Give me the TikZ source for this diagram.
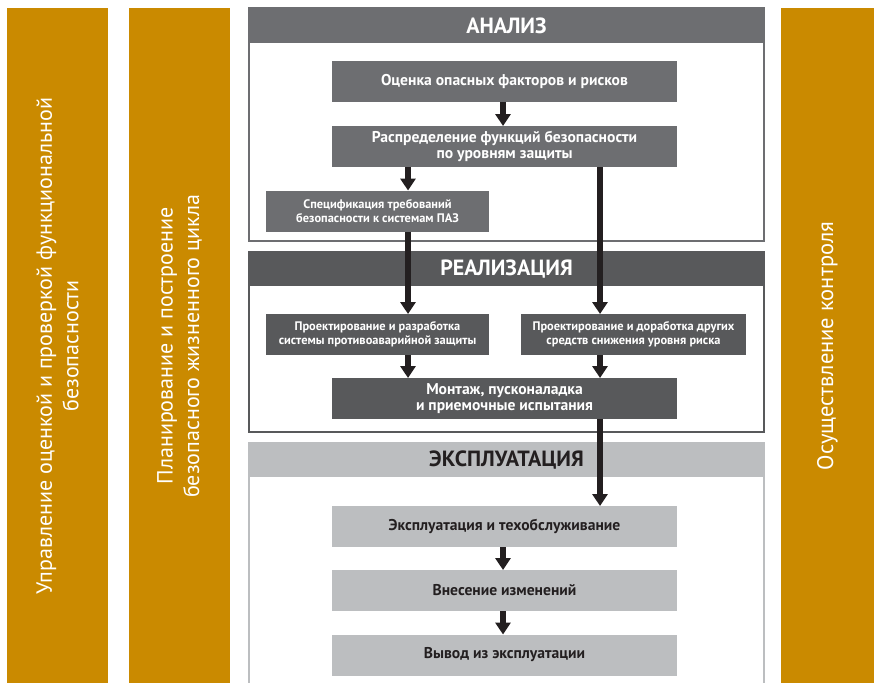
\documentclass[tikz,border=0pt]{standalone}
\usepackage{fontspec}
\setmainfont{PT Sans}
\usetikzlibrary{arrows.meta}
\definecolor{ochre}{HTML}{CA8A00}
\definecolor{gA}{HTML}{6D6E71}
\definecolor{gB}{HTML}{58595B}
\definecolor{gC}{HTML}{BCBEC0}
\definecolor{ink}{HTML}{231F20}
\begin{document}
\begin{tikzpicture}[x=1pt,y=-1pt,
  bar/.style={fill=ochre, draw=none, minimum height=676pt, inner sep=0pt, outer sep=0pt},
  bartext/.style={text=white, font=\fontsize{22}{26.5}\selectfont, rotate=90, align=center, inner sep=0pt},
  hdr/.style={font=\bfseries\fontsize{22}{24}\selectfont, inner sep=0pt},
  box/.style={font=\bfseries\fontsize{15.6}{16.5}\selectfont, align=center, minimum height=41pt, inner sep=0pt, outer sep=0pt},
  sbox/.style={box, font=\bfseries\fontsize{12.4}{13.8}\selectfont},
  boxA/.style={box, fill=gA, text=white},
  boxB/.style={box, fill=gB, text=white},
  boxC/.style={box, fill=gC, text=ink},
  wide/.style={minimum width=345pt},
  arr/.style={draw=ink, line width=6pt, -{Triangle[width=15pt,length=12pt]}},
  ]
\useasboundingbox (0,0) rectangle (874,682);
% side bars
\node[bar, minimum width=101pt] (b1) at (57.5,346) {};
\node[bar, minimum width=101pt] (b2) at (179.5,346) {};
\node[bar, minimum width=93pt] (b3) at (827.5,346) {};
\node[bartext] (t1) at (b1) {Управление оценкой и проверкой функциональной\\безопасности};
\node[bartext] (t2) at (b2) {Планирование и построение\\безопасного жизненного цикла};
\node[bartext, font=\fontsize{22.5}{26.5}\selectfont] (t3) at (b3) {Осуществление контроля};
% section frames
\draw[gA, line width=2pt] (249,8) rectangle (764,241);
\fill[gA] (248,7) rectangle (765,43);
\node[hdr, text=white] (h1) at (506.5,25.5) {АНАЛИЗ};
\draw[gB, line width=2pt] (249,252) rectangle (764,432);
\fill[gB] (248,251) rectangle (765,286);
\node[hdr, text=white] (h2) at (506.5,269) {РЕАЛИЗАЦИЯ};
\draw[gC, line width=2pt] (249,700) -- (249,443) -- (764,443) -- (764,700);
\fill[gC] (248,442) rectangle (765,477);
\node[hdr, text=ink] (h3) at (506.5,460) {ЭКСПЛУАТАЦИЯ};
% boxes
\node[boxA, wide] (ocenka) at (504.5,81.5) {Оценка опасных факторов и рисков};
\node[boxA, wide] (raspr) at (504.5,146.5) {Распределение функций безопасности\\по уровням защиты};
\node[boxA, sbox, minimum width=223pt] (spec) at (377.5,211) {Спецификация требований\\безопасности к системам ПАЗ};
\node[boxB, sbox, minimum width=223pt] (proj1) at (377.5,334.5) {Проектирование и разработка\\системы противоаварийной защиты};
\node[boxB, sbox, minimum width=225pt] (proj2) at (633.5,334.5) {Проектирование и доработка других\\средств снижения уровня риска};
\node[boxB, wide] (montazh) at (504.5,398.5) {Монтаж, пусконаладка\\и приемочные испытания};
\node[boxC, wide] (expl) at (504.5,526.5) {Эксплуатация и техобслуживание};
\node[boxC, wide] (vnes) at (504.5,590.5) {Внесение изменений};
\node[boxC, wide] (vyvod) at (504.5,655) {Вывод из эксплуатации};
% arrow columns
\coordinate (cl) at (408,0);
\coordinate (cc) at (503,0);
\coordinate (cr) at (600,0);
\draw[arr] (ocenka.south -| cc) -- (raspr.north -| cc);
\draw[arr] (raspr.south -| cl) -- (spec.north -| cl);
\draw[arr] (raspr.south -| cr) -- (proj2.north -| cr);
\draw[arr] (spec.south -| cl) -- (proj1.north -| cl);
\draw[arr] (proj1.south -| cl) -- (montazh.north -| cl);
\draw[arr] (proj2.south -| cr) -- (montazh.north -| cr);
\draw[arr] (montazh.south -| cr) -- (expl.north -| cr);
\draw[arr] (expl.south -| cc) -- (vnes.north -| cc);
\draw[arr] (vnes.south -| cc) -- (vyvod.north -| cc);
\end{tikzpicture}
\end{document}
